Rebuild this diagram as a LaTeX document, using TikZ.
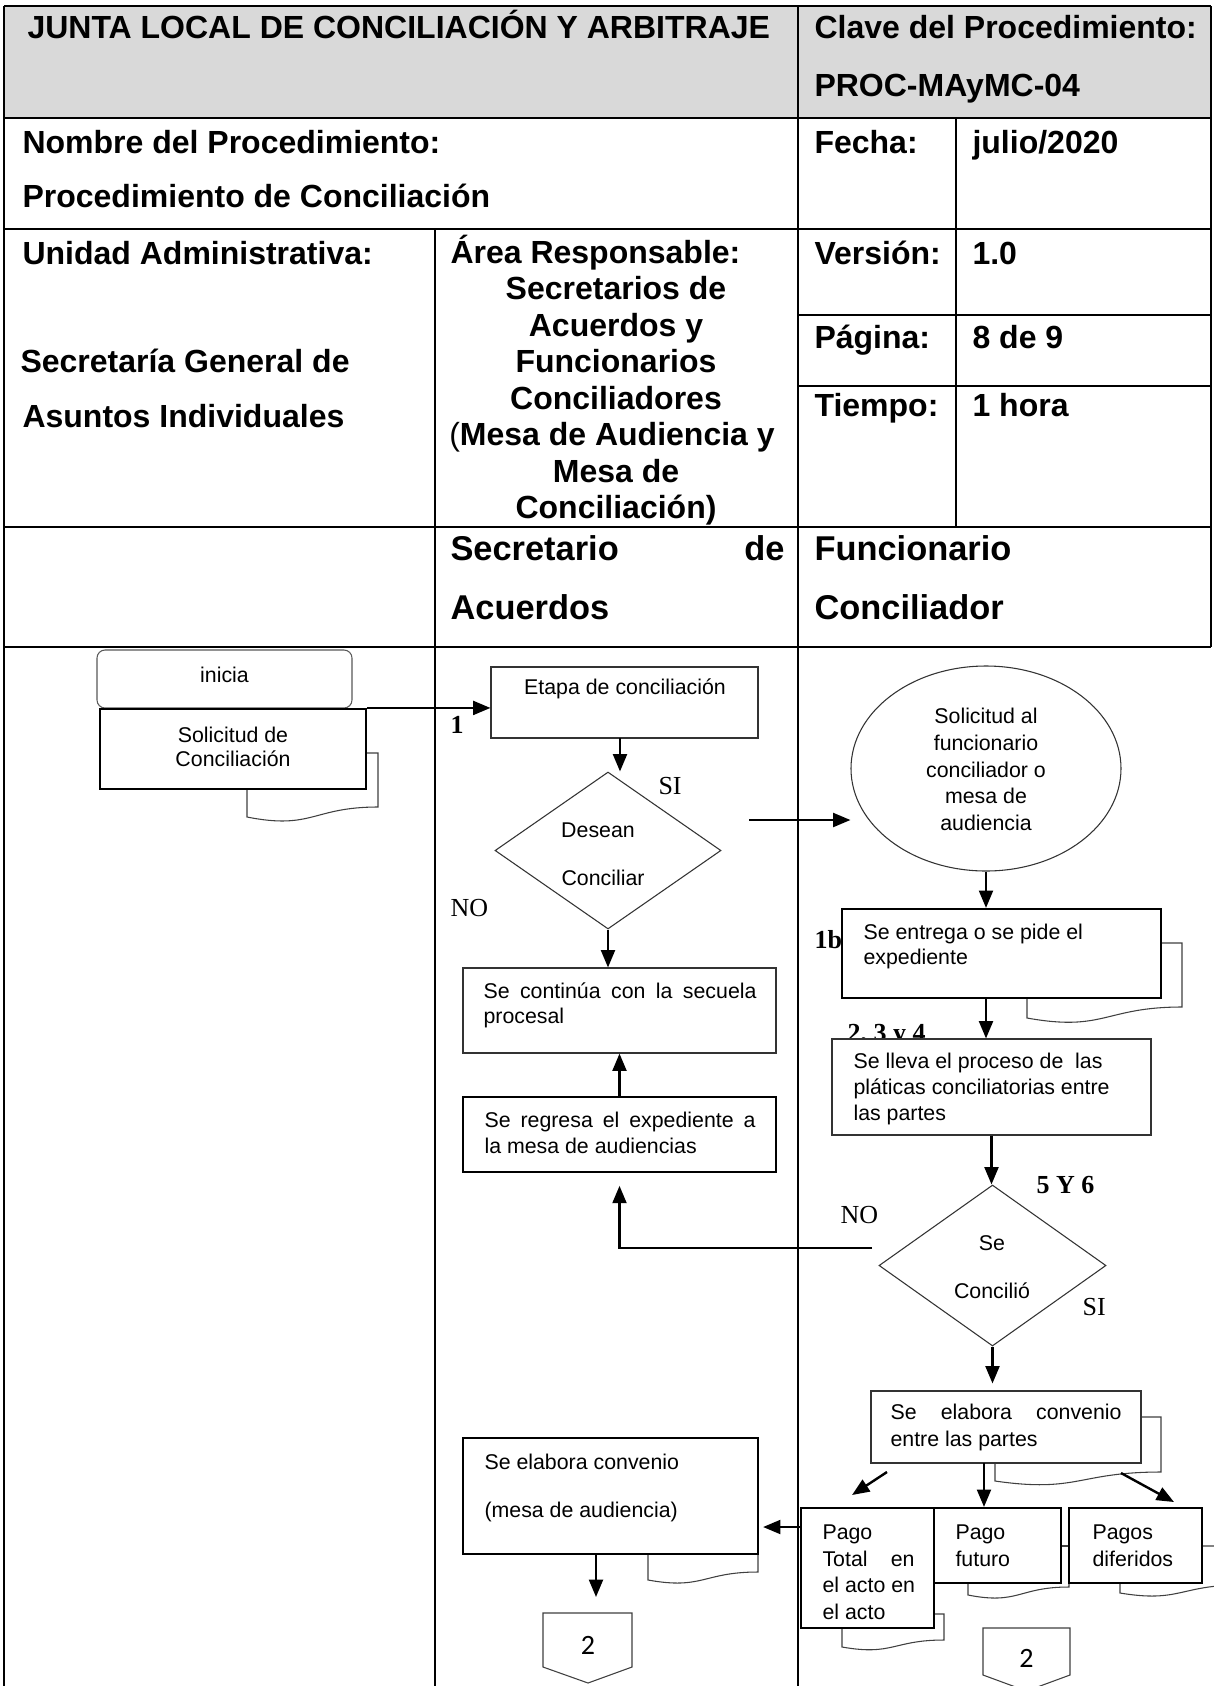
\documentclass[tikz,border=0pt]{standalone}
\usepackage{fontspec}
\setmainfont{Liberation Sans}
\newfontfamily\tnrfont{Liberation Serif}
\newfontfamily\calfont{Carlito}
\usetikzlibrary{shapes.geometric,arrows.meta,calc}
\newdimen\pxu \pxu=0.375pt
\tikzset{
  sz/.style 2 args={minimum width=#1*0.375pt,minimum height=#2*0.375pt},
  thinbox/.style={draw=black!80,line width=0.4pt,fill=white,inner sep=0pt},
  thickbox/.style={draw=black,line width=0.8pt,fill=white,inner sep=0pt},
  shd/.style={draw=black!75,line width=0.4pt},
  arr/.style={line width=0.9pt,-{Triangle[length=6.5pt,width=5.2pt]}},
  ft/.style={font=\fontsize{8}{10}\selectfont,inner sep=0pt,anchor=base west},
  hd/.style={font=\bfseries\fontsize{12}{14}\selectfont,inner sep=0pt,anchor=base west},
  hdb/.style={font=\bfseries\fontsize{12.9}{15}\selectfont,inner sep=0pt,anchor=base west},
  lb/.style={font=\tnrfont\fontsize{9.75}{11}\selectfont,inner sep=0pt,anchor=base west},
  lbb/.style={font=\tnrfont\bfseries\fontsize{9.75}{11}\selectfont,inner sep=0pt,anchor=base west},
  tbl/.style={line width=0.75pt},
  cn/.style={font=\calfont\fontsize{10.5}{12}\selectfont,inner sep=0pt,anchor=base}
}
\begin{document}
\begin{tikzpicture}[x=0.375pt,y=-0.375pt]
\useasboundingbox (0,0) rectangle (1214,1686);
\clip (0,0) rectangle (1214,1686);
\fill[white] (0,0) rectangle (1214,1686);

% ---------------- table ----------------
\fill[black!15] (4,6) rectangle (1211,118);
\draw[tbl] (4,6) -- (1211,6);
\draw[tbl] (4,118) -- (1211,118);
\draw[tbl] (4,229) -- (1211,229);
\draw[tbl] (798,315) -- (1211,315);
\draw[tbl] (798,386) -- (1211,386);
\draw[tbl] (4,527) -- (1211,527);
\draw[tbl] (4,647) -- (1211,647);
\draw[tbl] (4,6) -- (4,1686);
\draw[tbl] (1211,6) -- (1211,647);
\draw[tbl] (798,6) -- (798,1686);
\draw[tbl] (956,118) -- (956,527);
\draw[tbl] (435,229) -- (435,1686);

% header texts
\node[hd] (h1) at (27,38) {JUNTA LOCAL DE CONCILIACIÓN Y ARBITRAJE};
\node[hd] (h2) at (814,38) {Clave del Procedimiento:};
\node[hd] (h3) at (814,96) {PROC-MAyMC-04};
\node[hd] (h4) at (22,153) {Nombre del Procedimiento:};
\node[hd] (h5) at (22,207) {Procedimiento de Conciliación};
\node[hd] (h6) at (814,153) {Fecha:};
\node[hd] (h7) at (972,153) {julio/2020};
\node[hd] (h8) at (22,264) {Unidad Administrativa:};
\node[hd] (h9) at (20,372) {Secretaría General de};
\node[hd] (h10) at (22,427) {Asuntos Individuales};
\node[hd] (h11) at (450,263) {Área Responsable:};
\node[hd,anchor=base] (h12) at (616,299) {Secretarios de};
\node[hd,anchor=base] (h13) at (616,336) {Acuerdos y};
\node[hd,anchor=base] (h14) at (616,372) {Funcionarios};
\node[hd,anchor=base] (h15) at (616,409) {Conciliadores};
\node[hd,anchor=base] (h16) at (612,445) {{\mdseries(}Mesa de Audiencia y};
\node[hd,anchor=base] (h17) at (616,482) {Mesa de};
\node[hd,anchor=base] (h18) at (616,518) {Conciliación)};
\node[hd] (h19) at (814,264) {Versión:};
\node[hd] (h20) at (972,264) {1.0};
\node[hd] (h21) at (814,348) {Página:};
\node[hd] (h22) at (972,348) {8 de 9};
\node[hd] (h23) at (814,416) {Tiempo:};
\node[hd] (h24) at (972,416) {1 hora};
\node[hdb] (h25) at (450,560) {\makebox[334\pxu][s]{Secretario de}};
\node[hdb] (h26) at (450,619) {Acuerdos};
\node[hdb] (h27) at (814,560) {Funcionario};
\node[hdb] (h28) at (814,619) {Conciliador};

% ---------------- document shadows ----------------
\draw[shd] (366,753) -- (378,753) -- (378,807) .. controls (312.5,807) and (312.5,830) .. (247,817) -- (247,789);
\draw[shd] (1161,943) -- (1182,943) -- (1182,1007) .. controls (1104.5,1007) and (1104.5,1032) .. (1027,1018) -- (1027,998);
\draw[shd] (1141,1417) -- (1161,1417) -- (1161,1472) .. controls (1078,1472) and (1078,1493) .. (995,1481) -- (995,1463);
\draw[shd] (758,1554) -- (758,1572) .. controls (703,1572) and (703,1590) .. (648,1580) -- (648,1554);
\draw[shd] (934,1614) -- (944,1614) -- (944,1640) .. controls (893,1640) and (893,1656) .. (842,1647) -- (842,1628);
\draw[shd] (1061,1546) -- (1069,1546);
\draw[shd] (1069,1583) -- (1069,1587) .. controls (1018.5,1587) and (1018.5,1605) .. (968,1595) -- (968,1583);
\draw[shd] (1202,1546) -- (1240,1546) -- (1240,1585) .. controls (1180,1585) and (1180,1603) .. (1120,1593) -- (1120,1583);

% label partly hidden behind the box below it
\node[lbb] (l234) at (847,1041) {2, 3 y 4};

% ---------------- flow shapes ----------------
\node[thinbox,draw=black!65,rounded corners=3pt,sz={255}{58}] (ini) at (224.5,679) {};
\node[thickbox,sz={266}{80}] (sol) at (233,749) {};
\node[thinbox,sz={267}{71}] (etapa) at (624.5,702.5) {};
\node[thinbox,diamond,sz={226}{157}] (des) at (608,850.5) {};
\node[thinbox,sz={313}{85}] (cont) at (619.5,1010.5) {};
\node[thickbox,line width=0.6pt,sz={313}{75}] (reg) at (619.5,1134.5) {};
\node[thickbox,sz={295}{116}] (cmesa) at (610.5,1496) {};
\node[thinbox,ellipse,sz={270}{205}] (ell) at (986,768.5) {};
\node[thickbox,sz={319}{89}] (ent) at (1001.5,953.5) {};
\node[thinbox,sz={319}{96}] (pla) at (991.5,1087) {};
\node[thinbox,diamond,sz={227}{161}] (con) at (992.5,1265.5) {};
\node[thinbox,sz={270}{72}] (cpar) at (1006,1427) {};
\node[thickbox,sz={133}{120}] (ptot) at (867.5,1568) {};
\node[thickbox,sz={127}{75}] (pfut) at (997.5,1545.5) {};
\node[thickbox,sz={133}{75}] (pdif) at (1135.5,1545.5) {};
\draw[shd] (543,1613) -- (632,1613) -- (632,1667) -- (588,1683) -- (543,1667) -- cycle;
\draw[shd] (983,1628) -- (1070,1628) -- (1070,1675) -- (1026.5,1691) -- (983,1675) -- cycle;
\coordinate (off1) at (588,1613);
\coordinate (off2) at (1026.5,1628);

% ---------------- flow texts ----------------
\node[ft,anchor=base] (t1) at (224.5,682) {inicia};
\node[ft,anchor=base] (t2) at (233,742) {Solicitud de};
\node[ft,anchor=base] (t3) at (233,766) {Conciliación};
\node[ft,anchor=base] (t4) at (625,694) {Etapa de conciliación};
\node[ft,anchor=base] (t5) at (598,837) {Desean};
\node[ft,anchor=base] (t6) at (603,885) {Conciliar};
\node[ft] (t7) at (483,998) {\makebox[273\pxu][s]{Se continúa con la secuela}};
\node[ft] (t8) at (483,1023) {procesal};
\node[ft] (t9) at (484,1127) {\makebox[271\pxu][s]{Se regresa el expediente a}};
\node[ft] (t10) at (484,1153) {la mesa de audiencias};
\node[ft] (t11) at (484,1469) {Se elabora convenio};
\node[ft] (t12) at (484,1517) {(mesa de audiencia)};
\node[ft,anchor=base] (t13) at (986,723) {Solicitud al};
\node[ft,anchor=base] (t14) at (986,750) {funcionario};
\node[ft,anchor=base] (t15) at (986,777) {conciliador o};
\node[ft,anchor=base] (t16) at (986,803) {mesa de};
\node[ft,anchor=base] (t17) at (986,830) {audiencia};
\node[ft] (t18) at (863,939) {Se entrega o se pide el};
\node[ft] (t19) at (863,964) {expediente};
\node[ft] (t20) at (853,1068) {Se lleva el proceso de\ \ las};
\node[ft] (t21) at (853,1094) {pláticas conciliatorias entre};
\node[ft] (t22) at (853,1120) {las partes};
\node[ft,anchor=base] (t23) at (992,1250) {Se};
\node[ft,anchor=base] (t24) at (992,1298) {Concilió};
\node[ft] (t25) at (890,1419) {\makebox[231\pxu][s]{Se elabora convenio}};
\node[ft] (t26) at (890,1446) {entre las partes};
\node[ft] (t27) at (822,1539) {Pago};
\node[ft] (t28) at (822,1566) {\makebox[92\pxu][s]{Total en}};
\node[ft] (t29) at (822,1592) {el acto en};
\node[ft] (t30) at (822,1619) {el acto};
\node[ft] (t31) at (955,1539) {Pago};
\node[ft] (t32) at (955,1566) {futuro};
\node[ft] (t33) at (1092,1539) {Pagos};
\node[ft] (t34) at (1092,1566) {diferidos};
\node[cn] (n1) at (588,1654) {2};
\node[cn] (n2) at (1026.5,1667) {2};

% labels
\node[lbb] (l1) at (450,733) {1};
\node[lb] (lsi1) at (658,794) {SI};
\node[lb] (lno1) at (450,916) {NO};
\node[lbb] (l1b) at (814,948) {1b};
\node[lbb] (l56) at (1036,1193) {5 Y 6};
\node[lb] (lno2) at (840,1223) {NO};
\node[lb] (lsi2) at (1082,1315) {SI};

% ---------------- connectors ----------------
\coordinate (c2) at (620,738);
\coordinate (siA) at (749,820);
\coordinate (noA) at (872,1248);
\coordinate (dA) at (887,1472);
\coordinate (dB) at (852,1495);
\coordinate (c12) at (984,1463);
\coordinate (dC) at (1121,1473);
\coordinate (dD) at (1174,1502);
\coordinate (c14) at (801,1527);
\coordinate (c15) at (596,1554);

\draw[arr] (sol.north east) -- (sol.north east -| etapa.west);
\draw[arr] (c2) -- (c2 |- des.north);
\draw[arr] (des.south) -- (des.south |- cont.north);
\draw[arr] (siA) -- (siA -| ell.west);
\draw[arr] (ell.south) -- (ell.south |- ent.north);
\draw[arr] (ell.south |- ent.south) -- (ell.south |- pla.north);
\draw[arr] (pla.south) -- (pla.south |- con.north);
\draw[arr] (noA) -| ($(reg.south)+(0,13)$);
\draw[arr] (reg.north) -- (cont.south);
\draw[arr] (con.south) -- ($(con.south |- cpar.north)+(0,-7)$);
\draw[arr] (dA) -- (dB);
\draw[arr] (c12) -- (c12 |- pfut.north);
\draw[arr] (dC) -- (dD);
\draw[arr] (c14) -- ($(c14 -| cmesa.east)+(4,0)$);
\draw[arr] (c15) -- ($(c15 |- off1)+(0,-16)$);
\end{tikzpicture}
\end{document}
